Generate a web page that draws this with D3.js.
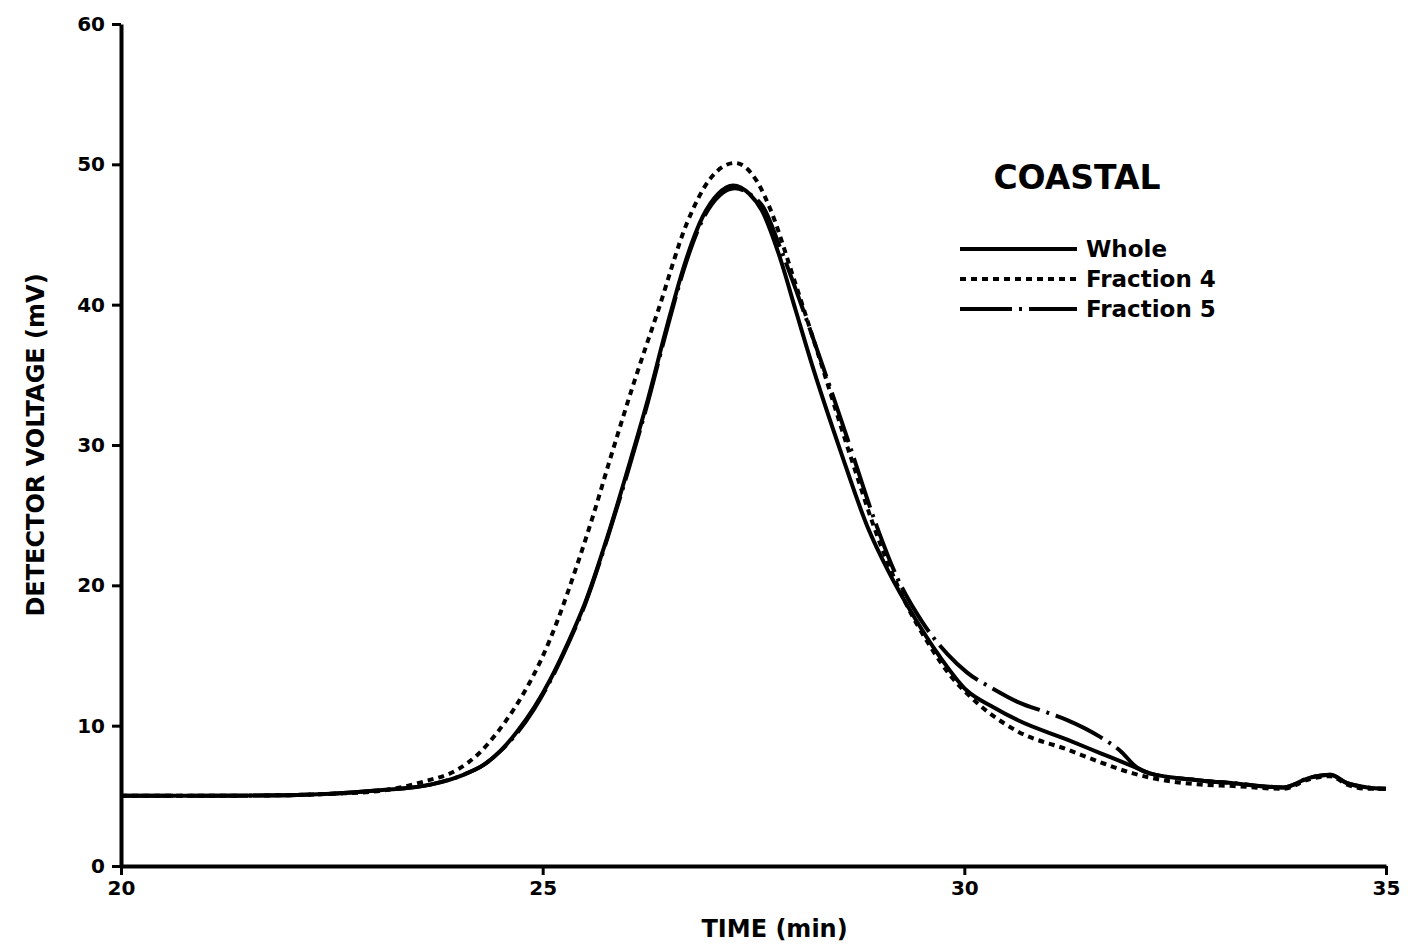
<!DOCTYPE html>
<html>
<head>
<meta charset="utf-8">
<script src="https://cdn.jsdelivr.net/npm/d3@7"></script>
<style>
    body { margin: 0; background: #fff; }
    text { font-family: "DejaVu Sans", sans-serif; font-weight: bold; fill: #000; }
</style>
</head>
<body>
<div id="chart"></div>
<script>
// chromatogram, three traces
let xTicks = [20, 25, 30, 35];
let yTicks = [0, 10, 20, 30, 40, 50, 60];

let whole = [
    [20, 5.0], [21, 5.0], [22, 5.05], [22.5, 5.15], [23.07, 5.4], [23.67, 5.8], [24.06, 6.5],
    [24.3, 7.2], [24.5, 8.2], [24.7, 9.6], [24.9, 11.3], [25.1, 13.4], [25.3, 15.9], [25.5, 18.7],
    [25.77, 23.5], [26.04, 28.9], [26.25, 33.3], [26.48, 38.6], [26.7, 43.2], [26.9, 46.3],
    [27.08, 47.9], [27.26, 48.5], [27.45, 47.9], [27.6, 46.7], [27.8, 43.6], [28.0, 39.6],
    [28.2, 35.6], [28.53, 29.6], [28.85, 24.2], [29.1, 21.0], [29.4, 17.8], [29.7, 15.0],
    [30.03, 12.5], [30.35, 11.3], [30.63, 10.4], [31.22, 9.0], [31.61, 8.05], [32.0, 7.1],
    [32.2, 6.6], [32.8, 6.1], [33.19, 5.9], [33.78, 5.6], [34.1, 6.3], [34.34, 6.5],
    [34.54, 5.9], [34.78, 5.6], [35, 5.5]
];

let fraction4 = [
    [20, 5.0], [21, 5.0], [22, 5.05], [22.5, 5.15], [23, 5.3], [23.58, 6.0], [24.0, 6.9],
    [24.24, 8.0], [24.46, 9.5], [24.65, 11.1], [24.83, 12.9], [24.99, 14.8], [25.17, 17.4],
    [25.4, 21.3], [25.6, 25.0], [25.8, 29.0], [26.08, 34.4], [26.37, 39.6], [26.71, 45.8],
    [26.99, 49.0], [27.28, 50.1], [27.54, 48.8], [27.7, 46.8], [27.97, 42.0], [28.26, 36.6],
    [28.65, 29.2], [29.0, 23.0], [29.3, 18.8], [29.6, 15.6], [29.83, 13.6], [30.03, 12.3],
    [30.63, 9.6], [31.22, 8.3], [31.61, 7.4], [32.0, 6.6], [32.2, 6.3], [32.8, 5.8],
    [33.19, 5.7], [33.78, 5.5], [34.1, 6.2], [34.34, 6.4], [34.54, 5.8], [34.78, 5.5], [35, 5.5]
];

let fraction5 = [
    [20, 5.0], [21, 5.0], [22, 5.05], [22.5, 5.15], [23.07, 5.4], [23.67, 5.8], [24.06, 6.5],
    [24.3, 7.2], [24.5, 8.2], [24.7, 9.5], [24.9, 11.2], [25.1, 13.3], [25.3, 15.8], [25.5, 18.6],
    [25.77, 23.4], [26.04, 28.7], [26.25, 33.1], [26.48, 38.4], [26.7, 43.0], [26.9, 46.1],
    [27.1, 47.8], [27.28, 48.3], [27.45, 47.9], [27.62, 46.9], [27.82, 44.0], [28.09, 39.6],
    [28.3, 36.0], [28.65, 29.8], [28.95, 24.4], [29.2, 20.6], [29.5, 17.4], [29.8, 15.1],
    [30.03, 13.8], [30.35, 12.6], [30.63, 11.7], [31.0, 10.9], [31.22, 10.4], [31.61, 9.2],
    [31.85, 8.2], [32.05, 7.0], [32.2, 6.6], [32.8, 6.1], [33.19, 5.9], [33.78, 5.6],
    [34.1, 6.3], [34.34, 6.5], [34.54, 5.9], [34.78, 5.6], [35, 5.5]
];

let seriesNames = ["Whole", "Fraction 4", "Fraction 5"];
let seriesDash = ["none", "6,5", "52,7,3,7"];

let width = 1408;
let height = 948;
let margin = {top: 24, right: 22, bottom: 82, left: 121};

let svg = d3.select("#chart").append("svg")
    .attr("width", width)
    .attr("height", height);

let x = d3.scaleLinear().domain([20, 35]).range([margin.left, width - margin.right]);
let y = d3.scaleLinear().domain([0, 60]).range([height - margin.bottom, margin.top]);

// axes
let xAxis = svg.append("g")
    .attr("transform", "translate(0," + y(0) + ")")
    .call(d3.axisBottom(x).tickValues(xTicks).tickSize(9).tickPadding(6).tickSizeOuter(0));
let yAxis = svg.append("g")
    .attr("transform", "translate(" + x(20) + ",0)")
    .call(d3.axisLeft(y).tickValues(yTicks).tickSize(9).tickPadding(7).tickSizeOuter(0));

[xAxis, yAxis].forEach((g) => {
    g.select(".domain").attr("stroke", "#000").attr("stroke-width", 4);
    g.selectAll(".tick line").attr("stroke", "#000").attr("stroke-width", 3);
    g.selectAll(".tick text").style("font-size", "20px");
});

svg.append("text")
    .attr("x", x(27.75))
    .attr("y", 937)
    .attr("text-anchor", "middle")
    .style("font-size", "24px")
    .text("TIME (min)");

svg.append("text")
    .attr("transform", "translate(44," + y(30) + ") rotate(-90)")
    .attr("text-anchor", "middle")
    .style("font-size", "24px")
    .text("DETECTOR VOLTAGE (mV)");

// traces
let line = d3.line()
    .x((d) => x(d[0]))
    .y((d) => y(d[1]))
    .curve(d3.curveMonotoneX);

[whole, fraction4, fraction5].forEach((data, i) => {
    svg.append("path")
        .datum(data)
        .attr("fill", "none")
        .attr("stroke", "#000")
        .attr("stroke-width", 4)
        .attr("stroke-dasharray", seriesDash[i])
        .attr("d", line);
});

// legend
svg.append("text")
    .attr("x", 1077)
    .attr("y", 189)
    .attr("text-anchor", "middle")
    .style("font-size", "33px")
    .text("COASTAL");

let legend = svg.append("g");
seriesNames.forEach((name, i) => {
    let ly = 249 + i * 30;
    legend.append("line")
        .attr("x1", 960).attr("x2", 1077)
        .attr("y1", ly).attr("y2", ly)
        .attr("stroke", "#000")
        .attr("stroke-width", 4)
        .attr("stroke-dasharray", seriesDash[i]);
    legend.append("text")
        .attr("x", 1086)
        .attr("y", ly + 8)
        .style("font-size", "23px")
        .text(name);
});
</script>
</body>
</html>
